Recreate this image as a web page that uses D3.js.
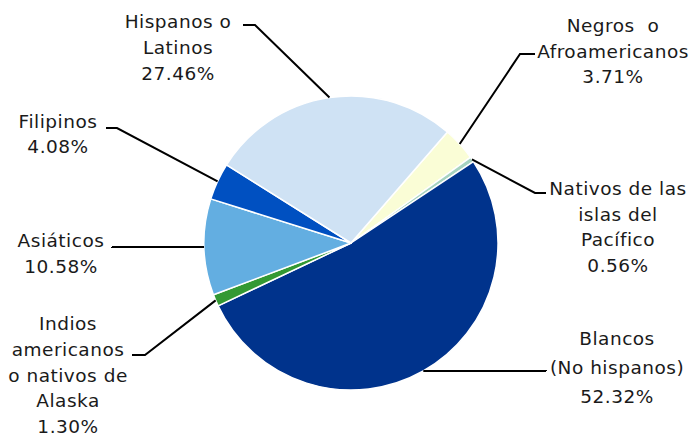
<!DOCTYPE html>
<html>
<head>
<meta charset="utf-8">
<script src="https://cdn.jsdelivr.net/npm/d3@7"></script>
<style>
  html, body { margin: 0; padding: 0; background: #fff; }
  svg text { font-family: "DejaVu Sans", sans-serif; font-size: 18.5px; fill: #1a1a1a; letter-spacing: 0.5px; }
</style>
</head>
<body>
<div id="chart"></div>
<script>
// --- Data ---
const groups = ["Negros o Afroamericanos", "Nativos de las islas del Pacífico", "Blancos (No hispanos)",
                "Indios americanos o nativos de Alaska", "Asiáticos", "Filipinos", "Hispanos o Latinos"];
const shares = [3.71, 0.56, 52.32, 1.30, 10.58, 4.08, 27.46];
const labelLines = [
  ["Negros  o", "Afroamericanos", "3.71%"],
  ["Nativos de las", "islas del", "Pacífico", "0.56%"],
  ["Blancos", "(No hispanos)", "52.32%"],
  ["Indios", "americanos", "o nativos de", "Alaska", "1.30%"],
  ["Asiáticos", "10.58%"],
  ["Filipinos", "4.08%"],
  ["Hispanos o", "Latinos", "27.46%"]
];
const colors = ["#fafdd6", "#a6d3c0", "#00338c", "#339933", "#63aee1", "#0050c1", "#cfe2f4"];

// label layout: text centre x, first baseline y, line gap, leader elbow and end
const layout = [
  { x: 613, y: 32, gap: 25.5, elbow: [520, 54], end: [535, 54] },
  { x: 618, y: 195, gap: 25.7, elbow: [535, 193], end: [546, 193] },
  { x: 617, y: 345, gap: 29, elbow: null, end: [546, 371] },
  { x: 68, y: 330, gap: 25.8, elbow: [145, 355], end: [132, 355] },
  { x: 61, y: 247, gap: 25.5, elbow: null, end: [112, 247] },
  { x: 58, y: 128, gap: 24.5, elbow: [117, 128], end: [106, 128] },
  { x: 178, y: 28, gap: 26, elbow: [255, 25], end: [243, 25] }
];

const width = 694, height = 438;
const cx = 351, cy = 243, radius = 147;
const start = 41 * Math.PI / 180;

const svg = d3.select("#chart").append("svg")
  .attr("width", width)
  .attr("height", height);

const pie = d3.pie().sort(null).value(d => d)
  .startAngle(start).endAngle(start + 2 * Math.PI);
const arcs = pie(shares);
const arc = d3.arc().innerRadius(0).outerRadius(radius);

const g = svg.append("g").attr("transform", `translate(${cx},${cy})`);

g.selectAll("path.slice")
  .data(arcs)
  .enter()
  .append("path")
  .attr("class", "slice")
  .attr("d", arc)
  .attr("fill", (d, i) => colors[i])
  .attr("stroke", "#fff")
  .attr("stroke-width", 1.5)
  .attr("stroke-linejoin", "round");

// --- Leader lines ---
arcs.forEach((d, i) => {
  const a = (d.startAngle + d.endAngle) / 2;
  const px = cx + radius * Math.sin(a), py = cy - radius * Math.cos(a);
  const L = layout[i];
  const pts = [[px, py]];
  if (L.elbow) pts.push(L.elbow);
  else pts.push([L.end[0], py]);
  pts.push(L.end);
  svg.append("path")
    .attr("d", d3.line()(pts))
    .attr("fill", "none")
    .attr("stroke", "#000")
    .attr("stroke-width", 2);
});

// --- Labels ---
labelLines.forEach((lines, i) => {
  const L = layout[i];
  const t = svg.append("text").attr("text-anchor", "middle");
  lines.forEach((s, j) => {
    t.append("tspan")
      .attr("x", L.x)
      .attr("y", L.y + j * L.gap)
      .style("white-space", "pre")
      .text(s);
  });
});
</script>
</body>
</html>
